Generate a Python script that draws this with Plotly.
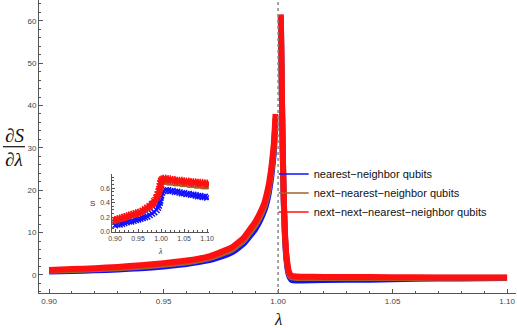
import plotly.graph_objects as go

# ---------------- main curves: dS/dlambda ----------------
lam_left = [0.900, 0.910, 0.920, 0.930, 0.940, 0.950, 0.960, 0.970, 0.975, 0.980, 0.985, 0.988,
            0.990, 0.992, 0.994, 0.995, 0.996, 0.997, 0.998, 0.9985, 0.9989]
lam_right = [1.0012, 1.0015, 1.0018, 1.0021, 1.0025, 1.0030, 1.0035, 1.0040, 1.0045,
             1.0050, 1.0055, 1.0060, 1.0080, 1.0100, 1.0200, 1.0400, 1.0600, 1.0800, 1.1000]

nn_left = [0.8, 0.95, 1.1, 1.3, 1.6, 2.0, 2.6, 3.5, 4.3, 5.4, 7.4, 9.4,
           10.8, 12.7, 15.2, 17.0, 19.5, 23.0, 28.0, 32.0, 36.0]
nn_right = [60.5, 49.0, 37.0, 27.0, 17.0, 9.0, 4.5, 2.0, 0.4,
            -0.4, -0.9, -1.2, -1.3, -1.3, -1.2, -1.1, -0.9, -0.8, -0.7]

nnn_left = [1.0, 1.15, 1.35, 1.6, 1.95, 2.4, 3.0, 4.0, 4.9, 6.0, 8.1, 10.2,
            11.7, 13.6, 16.1, 18.0, 20.5, 24.0, 29.0, 33.0, 37.0]
nnn_right = [61.0, 49.5, 37.5, 27.5, 17.5, 9.5, 5.0, 2.5, 0.9,
             0.0, -0.4, -0.6, -0.7, -0.7, -0.7, -0.7, -0.7, -0.65, -0.65]

nnnn_left = [1.2, 1.4, 1.6, 1.9, 2.3, 2.8, 3.4, 4.4, 5.4, 6.6, 8.8, 11.0,
             12.5, 14.5, 17.0, 19.0, 21.5, 25.0, 30.0, 34.0, 38.0]
nnnn_right = [61.5, 50.0, 38.0, 28.0, 18.0, 10.0, 5.5, 3.0, 1.3,
              0.4, 0.0, -0.2, -0.35, -0.4, -0.45, -0.5, -0.55, -0.6, -0.6]

# ---------------- inset: S(lambda) ----------------
lam_in = [0.900, 0.905, 0.910, 0.915, 0.920, 0.925, 0.930, 0.935, 0.940, 0.945,
          0.950, 0.955, 0.960, 0.965, 0.970, 0.975, 0.980, 0.985, 0.990, 0.993,
          0.995, 0.997, 0.998, 0.999, 1.000, 1.002, 1.005, 1.010, 1.015, 1.020,
          1.025, 1.030, 1.035, 1.040, 1.045, 1.050, 1.055, 1.060, 1.065, 1.070,
          1.075, 1.080, 1.085, 1.090, 1.095, 1.100]
S_nn = [0.09, 0.10, 0.10, 0.11, 0.12, 0.13, 0.14, 0.14, 0.15, 0.16,
        0.17, 0.18, 0.19, 0.20, 0.21, 0.23, 0.25, 0.27, 0.30, 0.33,
        0.36, 0.40, 0.43, 0.47, 0.50, 0.54, 0.56, 0.57, 0.57, 0.56,
        0.56, 0.55, 0.55, 0.54, 0.53, 0.53, 0.52, 0.52, 0.51, 0.51,
        0.50, 0.49, 0.49, 0.48, 0.48, 0.47]
S_nnn = [0.15, 0.16, 0.17, 0.18, 0.19, 0.20, 0.21, 0.22, 0.23, 0.24,
         0.25, 0.26, 0.28, 0.30, 0.32, 0.34, 0.37, 0.41, 0.46, 0.50,
         0.53, 0.57, 0.60, 0.63, 0.66, 0.68, 0.68, 0.68, 0.67, 0.67,
         0.67, 0.66, 0.66, 0.66, 0.65, 0.65, 0.65, 0.64, 0.64, 0.64,
         0.63, 0.63, 0.63, 0.62, 0.62, 0.62]
S_nnnn = [0.16, 0.17, 0.18, 0.19, 0.20, 0.21, 0.22, 0.23, 0.24, 0.25,
          0.26, 0.27, 0.29, 0.31, 0.33, 0.35, 0.38, 0.42, 0.47, 0.51,
          0.55, 0.59, 0.62, 0.66, 0.70, 0.72, 0.73, 0.73, 0.72, 0.72,
          0.71, 0.71, 0.70, 0.70, 0.70, 0.69, 0.69, 0.69, 0.68, 0.68,
          0.68, 0.67, 0.67, 0.67, 0.66, 0.66]

names = ["nearest\u2212neighbor qubits",
         "next\u2212nearest\u2212neighbor qubits",
         "next\u2212next\u2212nearest\u2212neighbor qubits"]
colors = ["#1010ff", "#a0642a", "#ff1010"]

main_x = lam_left + [None] + lam_right
main_series = [nn_left + [None] + nn_right,
               nnn_left + [None] + nnn_right,
               nnnn_left + [None] + nnnn_right]
inset_series = [S_nn, S_nnn, S_nnnn]
symbols = ["x-thin-open", "circle-open", "asterisk-open"]
msizes = [6, 4, 7]

fig = go.Figure()
for name, col, ys in zip(names, colors, main_series):
    fig.add_trace(go.Scatter(x=main_x, y=ys, mode="lines", name=name, showlegend=False,
                             line=dict(color=col, width=6, shape="spline", smoothing=0.3),
                             connectgaps=False, xaxis="x", yaxis="y"))
for col, ys, sym, ms in zip(colors, inset_series, symbols, msizes):
    fig.add_trace(go.Scatter(x=lam_in, y=ys, mode="markers", showlegend=False,
                             marker=dict(symbol=sym, size=ms, color=col,
                                         line=dict(color=col, width=1.5)),
                             xaxis="x2", yaxis="y2"))
# legend entries (thin line keys)
for name, col in zip(names, colors):
    fig.add_trace(go.Scatter(x=[None], y=[None], mode="lines", name=name,
                             line=dict(color=col, width=1.5), xaxis="x", yaxis="y"))

tickfont = dict(family="Liberation Sans", size=8, color="#444")
axcol = "#555"
fig.update_layout(
    width=517, height=328,
    margin=dict(l=39, r=1, t=0, b=35),
    paper_bgcolor="white", plot_bgcolor="white",
    showlegend=True, hovermode=False,
    legend=dict(x=0.492, y=0.456, xanchor="left", yanchor="top", itemwidth=30,
                font=dict(family="Liberation Sans", size=11, color="#111"),
                bgcolor="rgba(0,0,0,0)", tracegroupgap=0),
    xaxis=dict(range=[0.8956, 1.1039], showgrid=False, zeroline=False, automargin=False,
               showline=True, linecolor=axcol, linewidth=1,
               tickvals=[0.90, 0.95, 1.00, 1.05, 1.10],
               ticktext=["0.90", "0.95", "1.00", "1.05", "1.10"],
               ticks="inside", ticklen=4, tickcolor=axcol, tickfont=tickfont,
               minor=dict(dtick=0.01, ticks="inside", ticklen=2, tickcolor=axcol),
               domain=[0, 1], anchor="y"),
    yaxis=dict(range=[-4.25, 64.9], showgrid=False, zeroline=False, automargin=False,
               showline=True, linecolor=axcol, linewidth=1,
               tickvals=[0, 10, 20, 30, 40, 50, 60],
               ticks="inside", ticklen=4, tickcolor=axcol, tickfont=tickfont,
               minor=dict(dtick=2, ticks="inside", ticklen=2, tickcolor=axcol),
               domain=[0, 1], anchor="x"),
    xaxis2=dict(range=[0.894, 1.104], domain=[0.1537, 0.3564], anchor="y2", automargin=False,
                showgrid=False, zeroline=False, showline=True, linecolor=axcol,
                tickvals=[0.90, 0.95, 1.00, 1.05, 1.10],
                ticktext=["0.90", "0.95", "1.00", "1.05", "1.10"],
                ticks="inside", ticklen=3, tickcolor=axcol,
                tickfont=dict(family="Liberation Sans", size=7, color="#444"),
                minor=dict(dtick=0.01, ticks="inside", ticklen=1.5, tickcolor=axcol)),
    yaxis2=dict(range=[0, 0.79], domain=[0.2092, 0.405], anchor="x2", automargin=False,
                showgrid=False, zeroline=False, showline=True, linecolor=axcol,
                tickvals=[0.0, 0.2, 0.4, 0.6],
                ticktext=["0.0", "0.2", "0.4", "0.6"],
                ticks="inside", ticklen=3, tickcolor=axcol,
                tickfont=dict(family="Liberation Sans", size=7, color="#444"),
                minor=dict(dtick=0.05, ticks="inside", ticklen=1.5, tickcolor=axcol)),
    shapes=[
        dict(type="line", xref="x", yref="paper", x0=1.0, x1=1.0, y0=0, y1=1,
             line=dict(color="#888", width=1.5, dash="dot"), layer="above"),
        dict(type="line", xref="paper", yref="paper", x0=-0.0755, x1=-0.0294,
             y0=0.4993, y1=0.4993, line=dict(color="#111", width=1.2)),
    ],
    annotations=[
        dict(text="\u2202<i>S</i>", xref="paper", yref="paper", x=-0.0524, y=0.539,
             xanchor="center", yanchor="middle", showarrow=False,
             font=dict(family="Liberation Serif", size=19, color="#111")),
        dict(text="\u2202<i>\u03bb</i>", xref="paper", yref="paper", x=-0.0524, y=0.457,
             xanchor="center", yanchor="middle", showarrow=False,
             font=dict(family="Liberation Serif", size=19, color="#111")),
        dict(text="<i>\u03bb</i>", xref="x", yref="paper", x=1.0, y=-0.092,
             xanchor="center", yanchor="middle", showarrow=False,
             font=dict(family="Liberation Serif", size=17, color="#111")),
        dict(text="S", xref="paper", yref="paper", x=0.112, y=0.307,
             xanchor="center", yanchor="middle", showarrow=False,
             font=dict(family="Liberation Sans", size=8, color="#333")),
        dict(text="<i>\u03bb</i>", xref="paper", yref="paper", x=0.2537, y=0.14,
             xanchor="center", yanchor="middle", showarrow=False,
             font=dict(family="Liberation Serif", size=8, color="#333")),
    ],
)

fig.write_html("out.html", config={"displayModeBar": False},
               post_script="document.body.style.margin='0px';")
